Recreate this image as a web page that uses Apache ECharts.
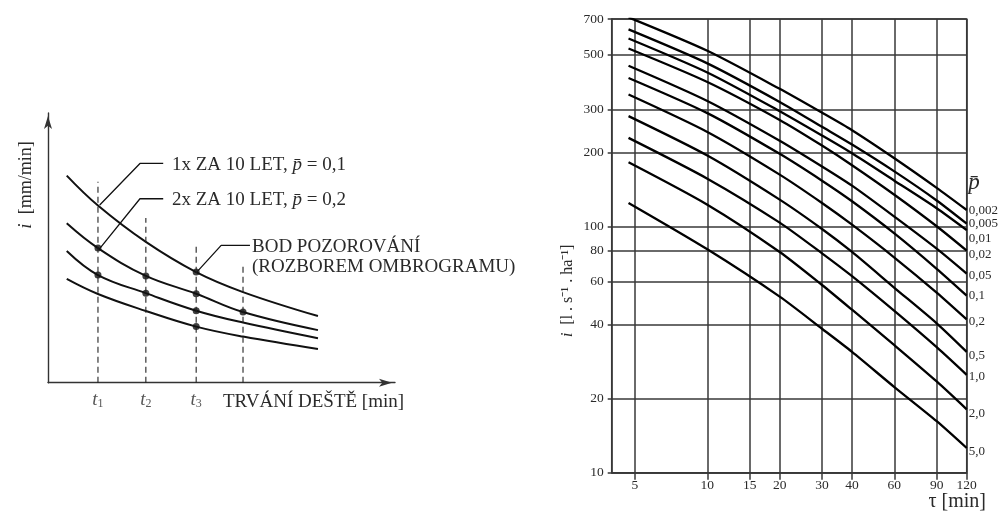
<!DOCTYPE html>
<html><head><meta charset="utf-8">
<script src="https://cdn.jsdelivr.net/npm/echarts@6/dist/echarts.min.js"></script>
<style>html,body{margin:0;padding:0;background:#fff}#c{width:1002px;height:514px}</style>
</head><body><div id="c"></div>
<script>
// ---------- Left panel (schematic, no numeric scale) ----------
const schemX = [5.4, 14.4, 28.2, 42.7, 56.2, 77.8];
const schemCurve1 = [76.8, 65.7, 52.2, 41.0, 33.6, 24.7];
const schemCurve2 = [59.1, 49.9, 39.6, 33.0, 26.2, 19.5];
const schemCurve3 = [48.8, 39.9, 33.2, 26.7, 22.3, 16.5];
const schemCurve4 = [38.5, 32.9, 26.6, 20.8, 17.1, 12.5];
const tTimes = [14.4, 28.2, 42.7, 56.2];
const dashTops = [74.5, 61.1, 50.4, 43.6];
const tNames = ['1', '2', '3'];
const obsPoints = [[14.4,49.9],[14.4,39.9],[28.2,39.6],[28.2,33.2],[42.7,41.0],[42.7,33.0],[42.7,26.7],[42.7,20.8],[56.2,26.2]];
const leader1 = [[33.2,81.3],[26.5,81.3],[14.9,65.9]];
const leader2 = [[33.2,68.2],[26.5,68.2],[15.0,49.9]];
const leader3 = [[58.2,50.9],[49.9,50.9],[43.0,41.2]];

// ---------- Right panel (log-log IDF curves) ----------
const tau = [4.7, 10, 20, 30, 40, 60, 90, 120];
const pLabels = ['0,002','0,005','0,01','0,02','0,05','0,1','0,2','0,5','1,0','2,0','5,0'];
const iP0002 = [711, 520, 364, 291, 247, 190, 144, 117];
const iP0005 = [635, 462, 322, 255, 216, 168, 128, 103];
const iP001  = [583, 424, 295, 235, 199, 154, 119, 97];
const iP002  = [531, 388, 272, 214, 178, 135, 100.5, 80];
const iP005  = [452, 325, 224, 176, 147, 110, 81.5, 64.5];
const iP01   = [403, 290, 198, 154, 127, 94, 67.5, 52.5];
const iP02   = [345, 243, 163, 125, 102, 75, 54, 42];
const iP05   = [282, 195, 129, 98, 79, 56.5, 40.5, 31];
const iP1    = [230, 157, 104, 78, 63, 45.5, 32.4, 25];
const iP2    = [183, 123, 79, 58, 46, 33, 23.5, 18.1];
const iP5    = [125, 81, 52, 38.5, 31, 22.3, 16.2, 12.6];
const xTicks = [5, 10, 15, 20, 30, 40, 60, 90, 120];
const yTicks = [10, 20, 40, 60, 80, 100, 200, 300, 500, 700];

const curves = [iP0002, iP0005, iP001, iP002, iP005, iP01, iP02, iP05, iP1, iP2, iP5];
const labelDy = [1, 0, 9, 4, 2, 0, 2, 4, 2, 4, 4];

const FONT = 'Liberation Serif';
const TXT = '#2a2a2a';
const GRIDC = '#383838';

const zip = (xs, ys) => xs.map((x, k) => [x, ys[k]]);

const series = [];
[schemCurve1, schemCurve2, schemCurve3, schemCurve4].forEach(c => {
  series.push({type:'line', xAxisIndex:0, yAxisIndex:0, data: zip(schemX, c), smooth:0.4,
    symbol:'none', lineStyle:{color:'#111', width:2}, silent:true});
});
tTimes.forEach((t, k) => {
  series.push({type:'line', xAxisIndex:0, yAxisIndex:0, data:[[t,0],[t,dashTops[k]]],
    symbol:'none', lineStyle:{color:'#222', width:1.1, type:[6,4]}, silent:true});
});
[leader1, leader2, leader3].forEach(l => {
  series.push({type:'line', xAxisIndex:0, yAxisIndex:0, data:l, symbol:'none',
    lineStyle:{color:'#111', width:1.3}, silent:true});
});
series.push({type:'scatter', xAxisIndex:0, yAxisIndex:0, data:obsPoints, symbolSize:7,
  itemStyle:{color:'#111'}, silent:true});
series.push({type:'scatter', xAxisIndex:0, yAxisIndex:0, data: tNames.map((n,k)=>({value:[tTimes[k],0], name:n})),
  symbolSize:1, itemStyle:{color:'rgba(0,0,0,0)'},
  label:{show:true, position:'bottom', distance:6, formatter: p => '{t|t}{s|' + p.name + '}',
    rich:{t:{fontFamily:FONT, fontStyle:'italic', fontSize:19, color:TXT}, s:{fontFamily:FONT, fontSize:12, color:TXT, padding:[9,0,0,0]}}},
  silent:true});

curves.forEach((c, k) => {
  series.push({type:'line', xAxisIndex:1, yAxisIndex:1, data: zip(tau, c), smooth:0.25,
    symbol:'none', lineStyle:{color:'#000', width:2.3}, silent:true,
    endLabel:{show:true, formatter: pLabels[k], distance:2, offset:[0, labelDy[k]],
      fontFamily:FONT, fontSize:13, color:TXT}});
});

const arrowAxisLine = {show:true, lineStyle:{color:'#333', width:1.4}, symbol:['none','arrow'], symbolSize:[6,13], symbolOffset:[0,-3]};

const option = {
  animation:false,
  backgroundColor:'#fff',
  grid:[
    {left:48, top:113, width:347, height:269.7},
    {left:611.7, top:19, right:35.3, bottom:41.3, show:true, borderColor:GRIDC, borderWidth:1.5, backgroundColor:'transparent'}
  ],
  xAxis:[
    {type:'value', gridIndex:0, min:0, max:100, axisLine:arrowAxisLine,
      axisTick:{show:false}, axisLabel:{show:false}, splitLine:{show:false}},
    {type:'log', logBase:10, gridIndex:1, min:4, max:120,
      axisLine:{show:true, lineStyle:{color:GRIDC, width:1.5}},
      axisTick:{show:true, customValues:xTicks, length:7, lineStyle:{color:GRIDC, width:1.5}},
      axisLabel:{show:true, customValues:xTicks, margin:6, fontFamily:FONT, fontSize:13.5, color:TXT},
      splitLine:{show:true, lineStyle:{color:GRIDC, width:1.5}},
      minorTick:{show:false}, minorSplitLine:{show:false}}
  ],
  yAxis:[
    {type:'value', gridIndex:0, min:0, max:100, axisLine:arrowAxisLine,
      axisTick:{show:false}, axisLabel:{show:false}, splitLine:{show:false}},
    {type:'log', logBase:10, gridIndex:1, min:10, max:700,
      axisLine:{show:true, lineStyle:{color:GRIDC, width:1.5}},
      axisTick:{show:true, customValues:yTicks, length:4, lineStyle:{color:GRIDC, width:1.5}},
      axisLabel:{show:true, customValues:yTicks, margin:8, fontFamily:FONT, fontSize:13.5, color:TXT},
      splitLine:{show:true, lineStyle:{color:GRIDC, width:1.5}},
      minorTick:{show:false}, minorSplitLine:{show:false}}
  ],
  graphic:[
    {type:'text', x:26, y:185, rotation:Math.PI/2, style:{text:'{i|i}  [mm/min]', textAlign:'center', textVerticalAlign:'middle',
      fontFamily:FONT, fontSize:18, fill:TXT, rich:{i:{fontFamily:FONT, fontStyle:'italic', fontSize:19, fill:TXT}}}},
    {type:'text', x:172, y:165, style:{text:'1x ZA 10 LET, {p|p\u0304} = 0,1', textVerticalAlign:'middle',
      fontFamily:FONT, fontSize:19, fill:TXT, rich:{p:{fontFamily:FONT, fontStyle:'italic', fontSize:19, fill:TXT}}}},
    {type:'text', x:172, y:200, style:{text:'2x ZA 10 LET, {p|p\u0304} = 0,2', textVerticalAlign:'middle',
      fontFamily:FONT, fontSize:19, fill:TXT, rich:{p:{fontFamily:FONT, fontStyle:'italic', fontSize:19, fill:TXT}}}},
    {type:'text', x:252, y:247, style:{text:'BOD POZOROVÁNÍ', textVerticalAlign:'middle', fontFamily:FONT, fontSize:19, fill:TXT}},
    {type:'text', x:252, y:267, style:{text:'(ROZBOREM OMBROGRAMU)', textVerticalAlign:'middle', fontFamily:FONT, fontSize:19, fill:TXT}},
    {type:'text', x:223, y:402, style:{text:'TRVÁNÍ DEŠTĚ [min]', textVerticalAlign:'middle', fontFamily:FONT, fontSize:19, fill:TXT}},
    {type:'text', x:568, y:291, rotation:Math.PI/2, style:{text:'{i|i}  [l . s⁻¹ . ha⁻¹]', textAlign:'center', textVerticalAlign:'middle',
      fontFamily:FONT, fontSize:16, fill:TXT, rich:{i:{fontFamily:FONT, fontStyle:'italic', fontSize:17, fill:TXT}}}},
    {type:'text', x:974, y:183, style:{text:'p\u0304', textAlign:'center', textVerticalAlign:'middle', fontFamily:FONT, fontStyle:'italic', fontSize:23, fill:TXT}},
    {type:'text', x:986, y:502, style:{text:'τ [min]', textAlign:'right', textVerticalAlign:'middle', fontFamily:FONT, fontSize:20, fill:TXT}}
  ],
  series: series
};
const chart = echarts.init(document.getElementById('c'), null, {renderer:'canvas'});
chart.setOption(option);
</script></body></html>
